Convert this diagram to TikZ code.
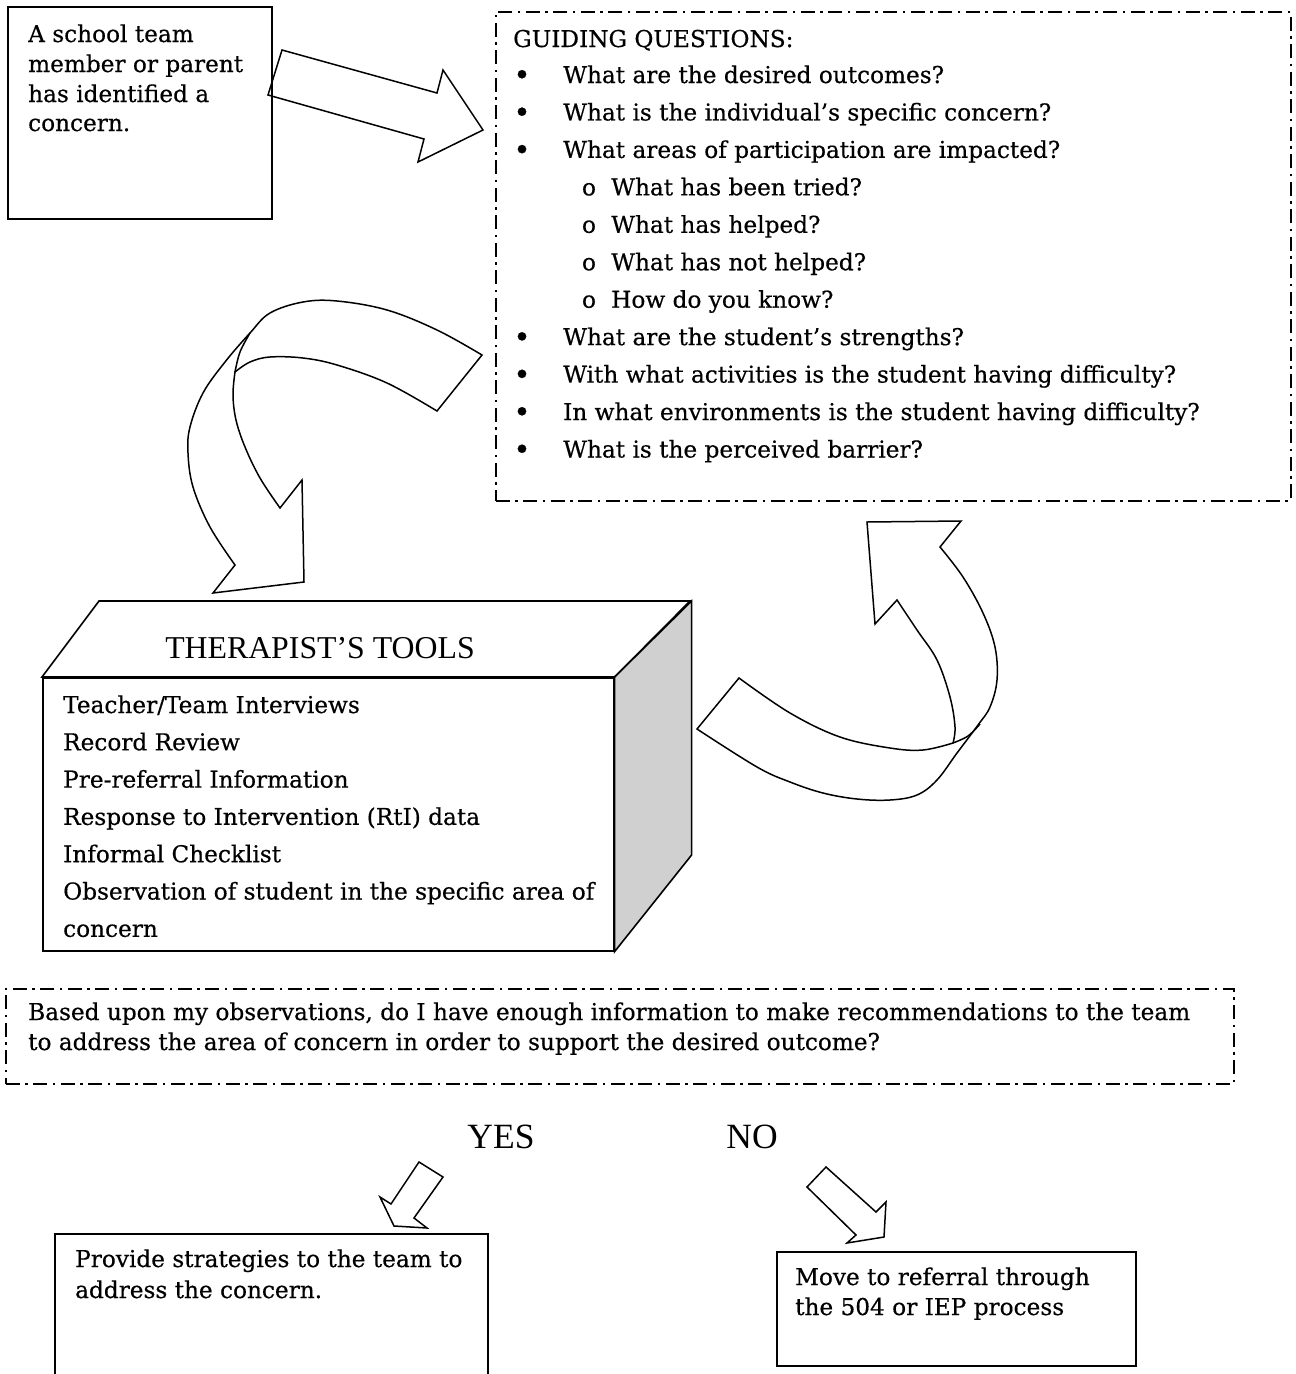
\documentclass[tikz,border=0pt]{standalone}
\usepackage{fontspec}
\setmainfont{DejaVu Serif}
\newfontfamily\bodyfont{DejaVu Serif}[FakeBold=0.5]
\newfontfamily\timesfont{Liberation Serif}
\definecolor{sideface}{RGB}{208,208,208}
\tikzset{
  plainbox/.style={draw, line width=1.6pt},
  dashbox/.style={draw, line width=1.8pt, dash pattern=on 14pt off 5.5pt on 2.5pt off 5.5pt},
  blockarrow/.style={draw, line width=1.5pt, fill=white, line join=miter},
  bodytext/.style={anchor=base west, inner sep=0pt, font=\bodyfont\fontsize{23.2}{28}\selectfont},
  listmark/.style={anchor=base, inner sep=0pt, font=\bodyfont\fontsize{23.2}{28}\selectfont},
  bigtext/.style={anchor=base, inner sep=0pt, font=\timesfont\fontsize{35.5}{40}\selectfont},
}
\begin{document}
\begin{tikzpicture}[x=1pt, y=-1pt]
\useasboundingbox (0,0) rectangle (1296,1374);
\clip (0,0) rectangle (1296,1374);

% ---- block arrow from the first box to the guiding questions
\filldraw[blockarrow] (282,50) -- (437,93) -- (443,70) -- (483,130) -- (418,162)
  -- (424,139) -- (268,95) -- cycle;

% ---- first box
\node[plainbox, anchor=north west, minimum width=264pt, minimum height=212pt, inner sep=0pt] (concern) at (7,6) {};
\node[bodytext] (c1) at (28,42) {A school team};
\node[bodytext] (c2) at (28,72) {member or parent};
\node[bodytext] (c3) at (28,102) {has identified a};
\node[bodytext] (c4) at (28,131) {concern.};

% ---- guiding questions
\node[dashbox, anchor=north west, minimum width=795pt, minimum height=489pt, inner sep=0pt] (guide) at (495,11) {};
\node[bodytext] (gq) at (513,47) {GUIDING QUESTIONS:};
\foreach \i/\t in {0/{What are the desired outcomes?},
                   1/{What is the individual’s specific concern?},
                   2/{What areas of participation are impacted?},
                   7/{What are the student’s strengths?},
                   8/{With what activities is the student having difficulty?},
                   9/{In what environments is the student having difficulty?},
                   10/{What is the perceived barrier?}} {
  \node[listmark] (gb\i) at (522,85+37.45*\i) {\scalebox{1.25}{•}};
  \node[bodytext] (gt\i) at (563,83+37.45*\i) {\t};
}
\foreach \i/\t in {3/{What has been tried?},
                   4/{What has helped?},
                   5/{What has not helped?},
                   6/{How do you know?}} {
  \node[listmark] (gb\i) at (589,83+37.45*\i) {o};
  \node[bodytext] (gt\i) at (611,83+37.45*\i) {\t};
}

% ---- curved arrow from the questions down to the tools
\filldraw[blockarrow] (482,355)
  -- plot[smooth, tension=0.6] coordinates {(482,355) (437,330) (387,310) (337,301) (303,302) (270,313) (250,333) (225,362) (203,393) (190,427) (188,453) (193,487) (210,527) (235,565)}
  -- (213,593) -- (304,582) -- (302,480) -- (280,508)
  -- plot[smooth, tension=0.6] coordinates {(280,508) (260,478) (245,447) (236,420) (233,395) (235,372)}
  -- plot[smooth, tension=0.6] coordinates {(235,372) (250,362) (270,357) (303,358) (337,365) (387,383) (437,411)}
  -- cycle;
\draw[line width=1.5pt] plot[smooth, tension=0.6] coordinates {(235,372) (240,352) (250,333)};

% ---- curved arrow from the tools back up to the questions
\filldraw[blockarrow] (739,678)
  -- plot[smooth, tension=0.6] coordinates {(739,678) (790,713) (840,737) (890,748) (923,750) (953,743)}
  -- plot[smooth, tension=0.6] coordinates {(953,743) (955,727) (950,697) (937,660) (917,630) (897,600)}
  -- (875,624) -- (867,522) -- (961,521) -- (940,547)
  -- plot[smooth, tension=0.6] coordinates {(940,547) (963,577) (983,613) (995,647) (997,680) (990,707) (978,725) (957,753) (937,780) (917,795) (890,800) (857,799) (823,793) (790,782) (757,767) (697,729)}
  -- cycle;
\draw[line width=1.5pt] plot[smooth, tension=0.6] coordinates {(953,743) (968,736) (980,724)};

% ---- therapist's tools block
\node[plainbox, fill=white, anchor=north west, minimum width=571pt, minimum height=273pt, inner sep=0pt] (tools) at (42,677) {};
\filldraw[plainbox, fill=white, line join=miter] (tools.north west) -- ++(57,-76) -- ++(591,0) -- (tools.north east) -- cycle;
\filldraw[plainbox, fill=sideface, line join=miter] (tools.north east) -- ++(77,-76) -- ++(0,254) -- (tools.south east) -- cycle;
\node[bigtext, font=\timesfont\fontsize{31.8}{36}\selectfont] (toolstitle) at (320,658) {THERAPIST’S TOOLS};
\foreach \i/\t in {0/{Teacher/Team Interviews},
                   1/{Record Review},
                   2/{Pre-referral Information},
                   3/{Response to Intervention (RtI) data},
                   4/{Informal Checklist},
                   5/{Observation of student in the specific area of},
                   6/{concern}} {
  \node[bodytext] (tl\i) at (63,713+37.3*\i) {\t};
}

% ---- decision question
\node[dashbox, anchor=north west, minimum width=1228pt, minimum height=95pt, inner sep=0pt] (decide) at (5,988) {};
\node[bodytext] (d1) at (28,1020) {Based upon my observations, do I have enough information to make recommendations to the team};
\node[bodytext] (d2) at (28,1050) {to address the area of concern in order to support the desired outcome?};

\node[bigtext] (yes) at (501,1148) {YES};
\node[bigtext] (no) at (752,1148) {NO};

% ---- small arrows to the outcomes
\filldraw[blockarrow] (419,1162) -- (443,1177) -- (414,1218) -- (427,1228) -- (394,1226)
  -- (380,1197) -- (391,1204) -- cycle;
\filldraw[blockarrow] (826,1167) -- (876,1212) -- (886,1202) -- (884,1237) -- (847,1243)
  -- (856,1235) -- (807,1187) -- cycle;

% ---- outcomes
\node[plainbox, anchor=north west, minimum width=433pt, minimum height=170pt, inner sep=0pt] (strategies) at (54,1233) {};
\node[bodytext] (s1) at (75,1267) {Provide strategies to the team to};
\node[bodytext] (s2) at (75,1298) {address the concern.};

\node[plainbox, anchor=north west, minimum width=359pt, minimum height=114pt, inner sep=0pt] (referral) at (776,1251) {};
\node[bodytext] (r1) at (795,1285) {Move to referral through};
\node[bodytext] (r2) at (795,1315) {the 504 or IEP process};
\end{tikzpicture}
\end{document}
